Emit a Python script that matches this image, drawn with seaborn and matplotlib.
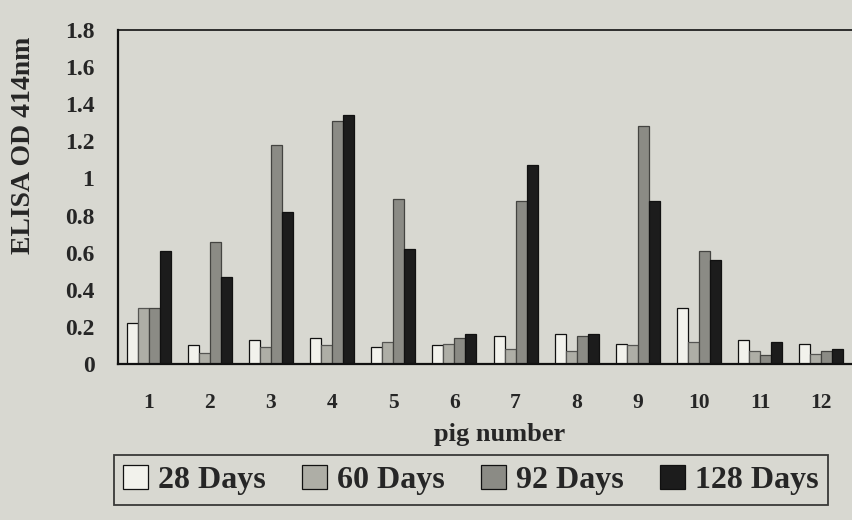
import numpy as np
import pandas as pd
import matplotlib
matplotlib.use("Agg")
import matplotlib.pyplot as plt
import seaborn as sns

pigs = ["1", "2", "3", "4", "5", "6", "7", "8", "9", "10", "11", "12"]
days28 = [0.22, 0.10, 0.13, 0.14, 0.09, 0.10, 0.15, 0.16, 0.11, 0.30, 0.13, 0.11]
days60 = [0.30, 0.06, 0.09, 0.10, 0.12, 0.11, 0.08, 0.07, 0.10, 0.12, 0.07, 0.055]
days92 = [0.30, 0.66, 1.18, 1.31, 0.89, 0.14, 0.88, 0.15, 1.28, 0.61, 0.05, 0.07]
days128 = [0.61, 0.47, 0.82, 1.34, 0.62, 0.16, 1.07, 0.16, 0.88, 0.56, 0.12, 0.08]
series_names = ["28 Days", "60 Days", "92 Days", "128 Days"]
y_ticks = [0, 0.2, 0.4, 0.6, 0.8, 1, 1.2, 1.4, 1.6, 1.8]
y_ticklabels = ["0", "0.2", "0.4", "0.6", "0.8", "1", "1.2", "1.4", "1.6", "1.8"]

df = pd.DataFrame({
    "pig": pigs * 4,
    "series": np.repeat(series_names, len(pigs)),
    "od": days28 + days60 + days92 + days128,
})

sns.set_theme(style="white")
plt.rcParams["font.family"] = ["Liberation Serif", "DejaVu Serif"]
plt.rcParams["font.weight"] = "bold"

bg = "#d8d8d1"
colors = ["#f2f2ec", "#aeaea6", "#8b8b85", "#1c1c1c"]
edges = ["#111111", "#555552", "#444441", "#111111"]

fig = plt.figure(figsize=(8.52, 5.20), dpi=100, facecolor=bg)
ax = fig.add_axes([118 / 852, 1 - 364 / 520, 1 - 118 / 852, (364 - 30) / 520])
ax.set_facecolor(bg)

sns.barplot(data=df, x="pig", y="od", hue="series", hue_order=series_names,
            order=pigs, palette=colors, width=0.72, saturation=1,
            edgecolor="#111111", linewidth=0.9, ax=ax, legend=True)

for cont, ec in zip(ax.containers, edges):
    for b in cont:
        b.set_edgecolor(ec)

ax.set_xlim(-0.48, 11.26)
ax.set_ylim(0, 1.8)
ax.set_yticks(y_ticks)
ax.set_yticklabels(y_ticklabels, fontsize=17, fontweight="bold")
ax.set_xticks(range(len(pigs)))
ax.set_xticklabels(pigs, fontsize=15.5, fontweight="bold")
ax.tick_params(axis="x", which="major", length=0, pad=21)
ax.set_xticks([i + 0.5 for i in range(-1, 12)], minor=True)
ax.tick_params(axis="x", which="minor", length=8, width=1.3, direction="out", color="#111111")
ax.tick_params(axis="y", which="major", length=8, width=1.3, direction="out", color="#111111", pad=9)

for s in ["left", "bottom", "top"]:
    ax.spines[s].set_visible(True)
    ax.spines[s].set_color("#111111")
ax.spines["left"].set_linewidth(1.6)
ax.spines["bottom"].set_linewidth(1.6)
ax.spines["top"].set_linewidth(1.2)
ax.spines["right"].set_visible(False)

ax.set_xlabel("pig number", fontsize=19, fontweight="bold", va="center")
ax.xaxis.set_label_coords((500 - 118) / 734, (364 - 435) / 334)
ax.set_ylabel("ELISA OD 414nm", fontsize=20, fontweight="bold", va="center")
ax.yaxis.set_label_coords((24 - 118) / 734, (364 - 145) / 334)

handles, labels = ax.get_legend_handles_labels()
ax.get_legend().remove()
leg = fig.legend(handles, labels, loc="center", bbox_to_anchor=(471 / 852, 1 - 480 / 520),
                 ncol=4, frameon=True, fancybox=False, edgecolor="#111111",
                 facecolor=bg, prop={"family": ["Liberation Serif"], "weight": "bold", "size": 23},
                 handlelength=0.78, handleheight=0.78, handletextpad=0.3, columnspacing=1.15,
                 borderpad=0.3, borderaxespad=0)
leg.get_frame().set_linewidth(1.3)

fig.savefig("out.png", dpi=100, facecolor=bg)
